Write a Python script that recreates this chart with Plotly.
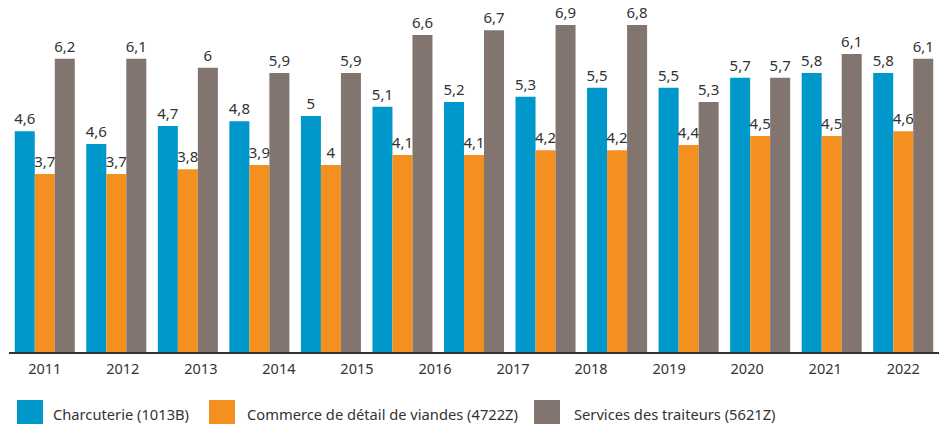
import numpy as np
import plotly.graph_objects as go

years = ["2011", "2012", "2013", "2014", "2015", "2016", "2017", "2018", "2019", "2020", "2021", "2022"]

series_names = ["Charcuterie (1013B)", "Commerce de détail de viandes (4722Z)", "Services des traiteurs (5621Z)"]

charcuterie = [4.64, 4.37, 4.75, 4.85, 4.96, 5.15, 5.25, 5.36, 5.55, 5.55, 5.76, 5.86, 5.86]
charcuterie_labels = ["4,6", "4,6", "4,7", "4,8", "5", "5,1", "5,2", "5,3", "5,5", "5,5", "5,7", "5,8", "5,8"]

commerce = [3.74, 3.74, 3.84, 3.93, 3.93, 4.14, 4.14, 4.24, 4.24, 4.35, 4.54, 4.54, 4.64]
commerce_labels = ["3,7", "3,7", "3,8", "3,9", "4", "4,1", "4,1", "4,2", "4,2", "4,4", "4,5", "4,5", "4,6"]

traiteurs = [6.16, 6.16, 5.97, 5.86, 5.86, 6.66, 6.76, 6.87, 6.87, 5.25, 5.76, 6.26, 6.16]
traiteurs_labels = ["6,2", "6,1", "6", "5,9", "5,9", "6,6", "6,7", "6,9", "6,8", "5,3", "5,7", "6,1", "6,1"]

colors = ["#0098CB", "#F39020", "#82746F"]
FONT = "Noto Sans"
TXT = "#333333"

groups = list(range(len(charcuterie)))
tickvals = np.linspace(0, len(charcuterie) - 1, len(years))

fig = go.Figure()
for name, vals, labs, col in zip(series_names,
                                 [charcuterie, commerce, traiteurs],
                                 [charcuterie_labels, commerce_labels, traiteurs_labels],
                                 colors):
    fig.add_trace(go.Bar(
        x=groups, y=vals, name=name, marker=dict(color=col, line=dict(width=0)),
        text=labs, textposition="outside", constraintext="none", cliponaxis=False,
        textfont=dict(family=FONT, size=15, color=TXT), showlegend=False,
    ))

H_PLOT = 342
fig.update_layout(
    width=947, height=424,
    margin=dict(l=9, r=8, t=10, b=72),
    barmode="group", bargap=0.161, bargroupgap=0,
    plot_bgcolor="white", paper_bgcolor="white",
    xaxis=dict(range=[-0.5, len(charcuterie) - 0.5], tickmode="array", tickvals=tickvals,
               ticktext=years, showgrid=False, zeroline=False, showline=True,
               linecolor="#333333", linewidth=1.5, ticks="", layer="below traces",
               tickfont=dict(family=FONT, size=14.5, color=TXT), ticklabelstandoff=3),
    yaxis=dict(range=[0, H_PLOT / 47.6], visible=False, showgrid=False, zeroline=False),
)

# custom legend (large square swatches)
def px_x(p):
    return (p - 9) / 930.0

def px_y(p):
    return (352 - p) / float(H_PLOT)

legend_items = [(17, 52), (209, 246), (534, 573)]
for (sx, tx), name, col in zip(legend_items, series_names, colors):
    fig.add_shape(type="rect", xref="paper", yref="paper",
                  x0=px_x(sx), x1=px_x(sx + 26), y0=px_y(426), y1=px_y(400),
                  fillcolor=col, line=dict(width=0))
    fig.add_annotation(xref="paper", yref="paper", x=px_x(tx), y=px_y(414),
                       xanchor="left", yanchor="middle", text=name, showarrow=False,
                       borderpad=0,
                       font=dict(family=FONT, size=14.7, color=TXT))

fig.write_html("out.html", config={"displayModeBar": False},
               post_script="document.body.style.margin='0';document.body.style.overflow='hidden';")
